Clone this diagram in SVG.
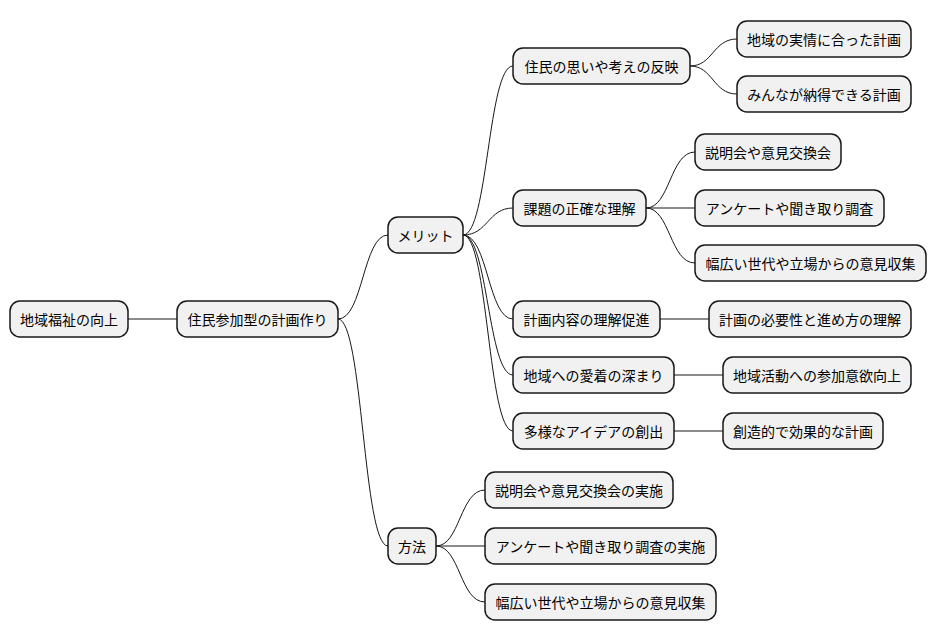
<svg xmlns="http://www.w3.org/2000/svg" width="936" height="640" viewBox="0 0 936 640">
<style>
.n rect{fill:#f1f1f1;stroke:#181818;stroke-width:1.5}
.n text{font-family:"Noto Sans CJK JP","Liberation Sans",sans-serif;font-size:14px;fill:#000;text-anchor:middle;dominant-baseline:central}
#c path{fill:none;stroke:#181818;stroke-width:1}
</style>
<rect width="936" height="640" fill="#fff"/>
<g id="c">
<path d="M128 319 H177"/>
<path d="M338 319 C363 319 363 235 388 235"/>
<path d="M338 319 C363 319 363 546 388 546"/>
<path d="M463 235 C488 235 488 66 513 66"/>
<path d="M463 235 C488 235 488 208 513 208"/>
<path d="M463 235 C488 235 488 319 513 319"/>
<path d="M463 235 C488 235 488 375 513 375"/>
<path d="M463 235 C488 235 488 431 513 431"/>
<path d="M690 66 C713 66 713 39 737 39"/>
<path d="M690 66 C713 66 713 94 737 94"/>
<path d="M646 208 C670 208 670 152 695 152"/>
<path d="M646 208 H695"/>
<path d="M646 208 C670 208 670 263 695 263"/>
<path d="M660 319 H709"/>
<path d="M674 375 H723"/>
<path d="M674 431 H723"/>
<path d="M436 546 C460 546 460 490 485 490"/>
<path d="M436 546 H485"/>
<path d="M436 546 C460 546 460 602 485 602"/>
</g>
<g id="n1" class="n"><rect x="10" y="301" width="118" height="36" rx="10"/><text x="69" y="319">地域福祉の向上</text></g>
<g id="n2" class="n"><rect x="177" y="301" width="161" height="36" rx="10"/><text x="257.5" y="319">住民参加型の計画作り</text></g>
<g id="n3" class="n"><rect x="388" y="217" width="75" height="36" rx="10"/><text x="425.5" y="235">メリット</text></g>
<g id="n4" class="n"><rect x="388" y="528" width="48" height="36" rx="10"/><text x="412" y="546">方法</text></g>
<g id="n5" class="n"><rect x="513" y="48" width="177" height="36" rx="10"/><text x="601.5" y="66">住民の思いや考えの反映</text></g>
<g id="n6" class="n"><rect x="513" y="190" width="133" height="36" rx="10"/><text x="579.5" y="208">課題の正確な理解</text></g>
<g id="n7" class="n"><rect x="513" y="301" width="147" height="36" rx="10"/><text x="586.5" y="319">計画内容の理解促進</text></g>
<g id="n8" class="n"><rect x="513" y="357" width="161" height="36" rx="10"/><text x="593.5" y="375">地域への愛着の深まり</text></g>
<g id="n9" class="n"><rect x="513" y="413" width="161" height="36" rx="10"/><text x="593.5" y="431">多様なアイデアの創出</text></g>
<g id="n10" class="n"><rect x="737" y="21" width="174" height="36" rx="10"/><text x="824" y="39">地域の実情に合った計画</text></g>
<g id="n11" class="n"><rect x="737" y="76" width="174" height="36" rx="10"/><text x="824" y="94">みんなが納得できる計画</text></g>
<g id="n12" class="n"><rect x="695" y="134" width="146" height="36" rx="10"/><text x="768" y="152">説明会や意見交換会</text></g>
<g id="n13" class="n"><rect x="695" y="190" width="189" height="36" rx="10"/><text x="789.5" y="208">アンケートや聞き取り調査</text></g>
<g id="n14" class="n"><rect x="695" y="245" width="231" height="36" rx="10"/><text x="810.5" y="263">幅広い世代や立場からの意見収集</text></g>
<g id="n15" class="n"><rect x="709" y="301" width="202" height="36" rx="10"/><text x="810" y="319">計画の必要性と進め方の理解</text></g>
<g id="n16" class="n"><rect x="723" y="357" width="188" height="36" rx="10"/><text x="817" y="375">地域活動への参加意欲向上</text></g>
<g id="n17" class="n"><rect x="723" y="413" width="160" height="36" rx="10"/><text x="803" y="431">創造的で効果的な計画</text></g>
<g id="n18" class="n"><rect x="485" y="472" width="188" height="36" rx="10"/><text x="579" y="490">説明会や意見交換会の実施</text></g>
<g id="n19" class="n"><rect x="485" y="528" width="231" height="36" rx="10"/><text x="600.5" y="546">アンケートや聞き取り調査の実施</text></g>
<g id="n20" class="n"><rect x="485" y="584" width="231" height="36" rx="10"/><text x="600.5" y="602">幅広い世代や立場からの意見収集</text></g>
</svg>
